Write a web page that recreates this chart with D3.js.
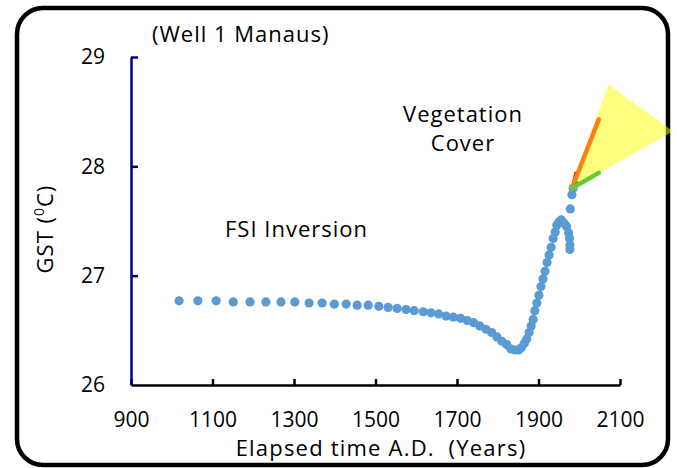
<!DOCTYPE html>
<html>
<head>
<meta charset="utf-8">
<script src="https://cdn.jsdelivr.net/npm/d3@7"></script>
<style>
  html, body { margin: 0; padding: 0; background: #fff; }
  svg { display: block; }
  text { font-family: "Open Sans", "Liberation Sans", sans-serif; fill: #000; }
</style>
</head>
<body>
<div id="chart"></div>
<script>
// FSI inversion, ground surface temperature history (Well 1 Manaus)
const years = [
  1018, 1064, 1109, 1151, 1192, 1231, 1268, 1302, 1337, 1369,
  1399, 1428, 1455, 1482, 1508, 1531, 1553, 1575, 1595, 1617,
  1636, 1655, 1673, 1691, 1709, 1725, 1741, 1756, 1771, 1785,
  1798, 1810, 1822, 1832, 1842, 1851, 1858, 1865, 1871, 1877,
  1882, 1887, 1891, 1896, 1901, 1906, 1911, 1916, 1921, 1926,
  1931, 1936, 1941, 1945, 1950, 1956, 1963, 1969, 1974, 1976,
  1977, 1977, 1978, 1982, 1985
];
const gst = [
  26.77, 26.77, 26.77, 26.76, 26.76, 26.76, 26.76, 26.76, 26.75, 26.75,
  26.74, 26.74, 26.73, 26.73, 26.72, 26.71, 26.70, 26.69, 26.68, 26.67,
  26.66, 26.65, 26.63, 26.62, 26.61, 26.59, 26.57, 26.54, 26.51, 26.48,
  26.44, 26.40, 26.37, 26.33, 26.32, 26.32, 26.34, 26.38, 26.42, 26.48,
  26.54, 26.60, 26.68, 26.75, 26.82, 26.90, 26.97, 27.04, 27.12, 27.19,
  27.26, 27.34, 27.40, 27.46, 27.49, 27.51, 27.48, 27.45, 27.39, 27.34,
  27.28, 27.24, 27.61, 27.74, 27.80
];

// vegetation cover scenarios (year, GST)
const coneYears = [1982, 2071, 2230];
const coneGst = [27.80, 28.75, 28.32];
const orangeLine = [[1982, 27.80], [2048, 28.43]];
const redLine = [[1981, 27.79], [1991, 27.95]];
const greenLine = [[1982, 27.80], [2048, 27.94]];
const darkGreenLine = [[1982, 27.79], [1998, 27.86]];

const xTicks = [900, 1100, 1300, 1500, 1700, 1900, 2100];
const yTicks = [26, 27, 28, 29];

(function() {
  'use strict';

  const width = 677;
  const height = 468;

  const svg = d3.select('#chart').append('svg')
    .attr('width', width)
    .attr('height', height);

  // Rounded frame
  svg.append('rect')
    .attr('x', 17)
    .attr('y', 8)
    .attr('width', 651)
    .attr('height', 457)
    .attr('rx', 26)
    .attr('fill', '#fff')
    .attr('stroke', '#000')
    .attr('stroke-width', 4.5);

  const x = d3.scaleLinear().domain([900, 2100]).range([131, 620]);
  const y = d3.scaleLinear().domain([26, 29]).range([385, 57]);

  // X axis (black, ticks inward)
  const xAxis = svg.append('g')
    .attr('transform', `translate(0,${y(26)})`)
    .call(d3.axisBottom(x)
      .tickValues(xTicks)
      .tickFormat(d3.format('d'))
      .tickSizeInner(-6)
      .tickSizeOuter(0)
      .tickPadding(27));
  xAxis.select('.domain').attr('stroke', '#000').attr('stroke-width', 2.5);
  xAxis.selectAll('.tick line').attr('stroke', '#000').attr('stroke-width', 2.5);
  xAxis.selectAll('.tick text')
    .style('font-size', '21px')
    .style('font-family', '"Open Sans", sans-serif')
    .attr('fill', '#000');

  // Y axis (navy, ticks inward)
  const yAxis = svg.append('g')
    .attr('transform', `translate(${x(900)},0)`)
    .call(d3.axisLeft(y)
      .tickValues(yTicks)
      .tickFormat(d3.format('d'))
      .tickSizeInner(-7)
      .tickSizeOuter(0)
      .tickPadding(26));
  yAxis.select('.domain').attr('stroke', '#00007f').attr('stroke-width', 2.5);
  yAxis.selectAll('.tick line').attr('stroke', '#00007f').attr('stroke-width', 2.5);
  yAxis.selectAll('.tick').filter(d => d === 26).select('line').remove();
  yAxis.selectAll('.tick text')
    .style('font-size', '21px')
    .style('font-family', '"Open Sans", sans-serif')
    .attr('fill', '#000');

  // GST points
  const points = years.map((yr, i) => ({ year: yr, t: gst[i] }));
  svg.append('g').selectAll('circle')
    .data(points)
    .enter()
    .append('circle')
    .attr('cx', d => x(d.year))
    .attr('cy', d => y(d.t))
    .attr('r', 4.6)
    .attr('fill', '#5b9bd5');

  // Yellow cone
  const cone = coneYears.map((yr, i) => [x(yr), y(coneGst[i])]);
  svg.append('path')
    .attr('d', 'M' + cone.join('L') + 'Z')
    .attr('fill', '#ffff00')
    .attr('fill-opacity', 0.5);

  const line = d3.line().x(d => x(d[0])).y(d => y(d[1]));

  svg.append('path').attr('d', line(redLine))
    .attr('stroke', '#ff0000').attr('stroke-width', 2).attr('fill', 'none');
  svg.append('path').attr('d', line(orangeLine))
    .attr('stroke', '#ff7f0e').attr('stroke-width', 4.5)
    .attr('stroke-linecap', 'round').attr('fill', 'none');
  svg.append('path').attr('d', line(darkGreenLine))
    .attr('stroke', '#00a050').attr('stroke-width', 2).attr('fill', 'none');
  svg.append('path').attr('d', line(greenLine))
    .attr('stroke', '#66cc33').attr('stroke-width', 4.5)
    .attr('stroke-linecap', 'round').attr('fill', 'none');

  // Labels
  const label = (tx, ty, txt, anchor) => svg.append('text')
    .attr('x', tx)
    .attr('y', ty)
    .attr('text-anchor', anchor || 'start')
    .style('font-size', '22px')
    .style('letter-spacing', '1px')
    .text(txt);

  label(152, 42, '(Well 1 Manaus)');
  label(463, 122, 'Vegetation', 'middle');
  label(463, 151, 'Cover', 'middle');
  label(225, 237, 'FSI Inversion');

  svg.append('text')
    .attr('x', 381)
    .attr('y', 456)
    .attr('text-anchor', 'middle')
    .style('font-size', '22px')
    .style('letter-spacing', '1.2px')
    .style('white-space', 'pre')
    .text('Elapsed time A.D.  (Years)');

  const yTitle = svg.append('text')
    .attr('transform', 'translate(53,229) rotate(-90)')
    .attr('text-anchor', 'middle')
    .style('font-size', '22px')
    .style('letter-spacing', '1px');
  yTitle.append('tspan').text('GST (');
  yTitle.append('tspan').attr('baseline-shift', 'super').style('font-size', '14px').text('0');
  yTitle.append('tspan').text('C)');
})();
</script>
</body>
</html>
